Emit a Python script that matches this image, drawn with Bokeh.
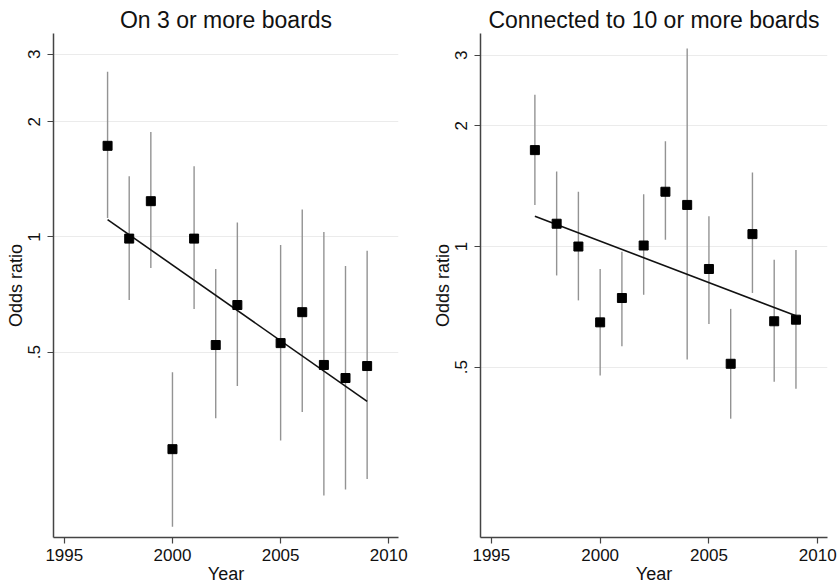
from bokeh.plotting import figure
from bokeh.layouts import row
from bokeh.models import Range1d, FixedTicker, ColumnDataSource
from bokeh.embed import file_html
from bokeh.resources import INLINE

# ---- data ----
title_a = "On 3 or more boards"
years_a = [1997, 1998, 1999, 2000, 2001, 2002, 2003, 2005, 2006, 2007, 2008, 2009]
or_a = [1.73, 0.99, 1.24, 0.279, 0.99, 0.522, 0.664, 0.528, 0.636, 0.463, 0.428, 0.46]
lo_a = [1.12, 0.684, 0.83, 0.175, 0.648, 0.336, 0.408, 0.294, 0.349, 0.211, 0.219, 0.233]
hi_a = [2.70, 1.44, 1.88, 0.443, 1.53, 0.825, 1.09, 0.953, 1.18, 1.03, 0.84, 0.92]
fit_years_a = [1997, 2009]
fit_a = [1.11, 0.372]

title_b = "Connected to 10 or more boards"
years_b = [1997, 1998, 1999, 2000, 2001, 2002, 2003, 2004, 2005, 2006, 2007, 2008, 2009]
or_b = [1.74, 1.14, 1.0, 0.647, 0.744, 1.006, 1.37, 1.27, 0.879, 0.51, 1.074, 0.651, 0.657]
lo_b = [1.27, 0.847, 0.734, 0.477, 0.564, 0.758, 1.04, 0.523, 0.641, 0.372, 0.766, 0.46, 0.442]
hi_b = [2.39, 1.54, 1.37, 0.879, 0.97, 1.35, 1.83, 3.12, 1.19, 0.699, 1.53, 0.927, 0.981]
fit_years_b = [1997, 2009]
fit_b = [1.19, 0.672]

y_ticks = [0.5, 1, 2, 3]
y_tick_labels = [".5", "1", "2", "3"]
x_ticks = [1995, 2000, 2005, 2010]
x_label = "Year"
y_label = "Odds ratio"

FONT = "Liberation Sans"


def panel(title, years, ors, los, his, fyears, fvals, ymin, bl, br, fw):
    p = figure(width=bl + fw + br, height=583, y_axis_type="log",
               x_range=Range1d(1994.5, 2010.45), y_range=Range1d(ymin, 3.40),
               output_backend="svg", toolbar_location=None,
               min_border_left=bl, min_border_right=br, min_border_top=33,
               min_border_bottom=46, frame_width=fw, frame_height=504)
    p.outline_line_color = None
    p.title.text = title
    p.title.align = "center"
    p.title.text_font = FONT
    p.title.text_font_size = "23px"
    p.title.text_font_style = "normal"
    p.title.text_color = "#111111"
    p.title.offset = 0
    p.title.standoff = 2

    p.xgrid.grid_line_color = None
    p.ygrid.grid_line_color = "#ebebeb"
    p.ygrid.grid_line_width = 1

    p.xaxis.ticker = FixedTicker(ticks=x_ticks)
    p.yaxis.ticker = FixedTicker(ticks=y_ticks)
    p.yaxis.major_label_overrides = {t: l for t, l in zip(y_ticks, y_tick_labels)}
    p.yaxis.major_label_orientation = "vertical"
    p.xaxis.minor_tick_line_color = None
    p.yaxis.minor_tick_line_color = None
    for ax in (p.xaxis, p.yaxis):
        ax.axis_line_color = "#444444"
        ax.axis_line_width = 1.5
        ax.major_tick_line_color = "#444444"
        ax.major_tick_line_width = 1.2
        ax.major_tick_out = 6
        ax.major_tick_in = 0
        ax.major_label_text_font = FONT
        ax.major_label_text_font_size = "17px"
        ax.major_label_text_color = "#111111"
        ax.axis_label_text_font = FONT
        ax.axis_label_text_font_size = "18px"
        ax.axis_label_text_font_style = "normal"
        ax.axis_label_text_color = "#111111"
    p.xaxis.axis_label = x_label
    p.yaxis.axis_label = y_label
    p.xaxis.major_label_standoff = 5
    p.xaxis.axis_label_standoff = 0
    p.yaxis.major_label_standoff = 7
    p.yaxis.axis_label_standoff = 0

    src = ColumnDataSource(dict(x=years, y=ors, lo=los, hi=his))
    p.segment(x0="x", y0="lo", x1="x", y1="hi", source=src,
              line_color="#939393", line_width=1.4)
    p.line(fyears, fvals, line_color="#111111", line_width=1.6)
    p.scatter(x="x", y="y", source=src, marker="square", size=9,
              fill_color="black", line_color="black")
    return p


pa = panel(title_a, years_a, or_a, lo_a, hi_a, fit_years_a, fit_a, 0.164, 53, 21, 345)
pb = panel(title_b, years_b, or_b, lo_b, hi_b, fit_years_b, fit_b, 0.188, 61, 11, 347)

layout = row(pa, pb, spacing=0)
open("out.html", "w").write(file_html(layout, INLINE))
